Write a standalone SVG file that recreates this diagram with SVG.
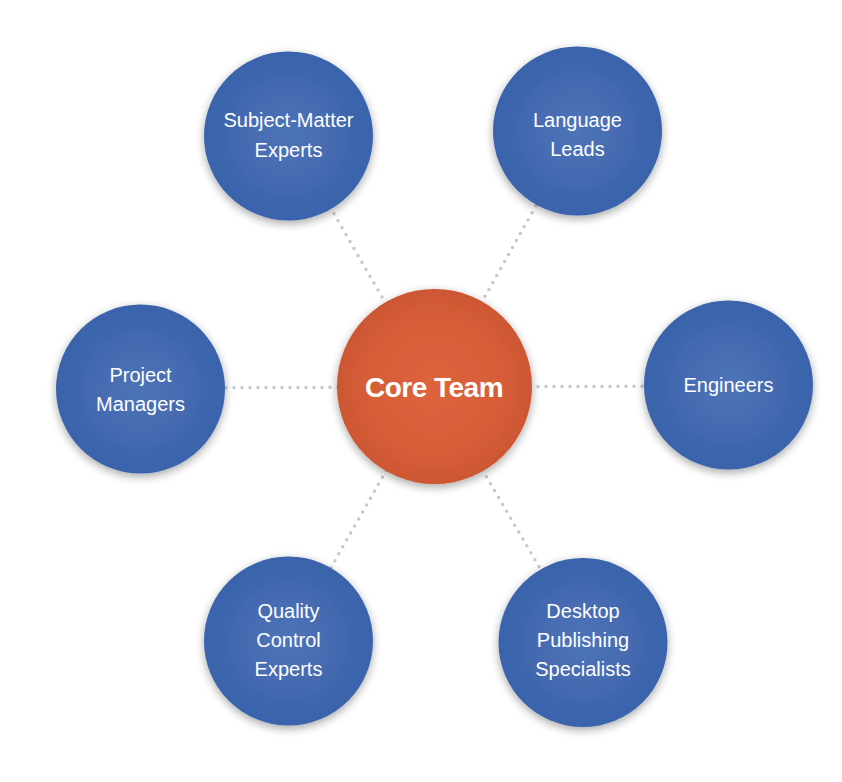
<svg xmlns="http://www.w3.org/2000/svg" width="842" height="782" viewBox="0 0 842 782">
<style>
.lbl{font-family:"Liberation Sans",Arial,sans-serif;font-size:20px;fill:#ffffff;text-anchor:middle}
.core{font-family:"Liberation Sans",Arial,sans-serif;font-size:28px;font-weight:bold;fill:#ffffff;text-anchor:middle;letter-spacing:-0.5px}
.conn{stroke:#c8c8c8;stroke-width:3.5;stroke-linecap:round;stroke-dasharray:0 8;fill:none}
</style>
<defs>
<radialGradient id="blueG" cx="50%" cy="50%" r="50%">
<stop offset="0" stop-color="#4e74b8"/>
<stop offset="0.62" stop-color="#4469b0"/>
<stop offset="0.68" stop-color="#4268ae"/>
<stop offset="0.72" stop-color="#3d66ad"/>
<stop offset="1" stop-color="#3a64ab"/>
</radialGradient>
<radialGradient id="orangeG" cx="50%" cy="50%" r="50%">
<stop offset="0" stop-color="#de643d"/>
<stop offset="0.7" stop-color="#d65d38"/>
<stop offset="1" stop-color="#cd5733"/>
</radialGradient>
<filter id="sh" x="-30%" y="-30%" width="160%" height="160%">
<feGaussianBlur in="SourceAlpha" stdDeviation="5"/>
<feOffset dy="3" result="b"/>
<feComponentTransfer><feFuncA type="linear" slope="0.35"/></feComponentTransfer>
<feMerge><feMergeNode/><feMergeNode in="SourceGraphic"/></feMerge>
</filter>
</defs>
<rect width="842" height="782" fill="#ffffff"/>
<g id="connectors">
<line class="conn" x1="434" y1="387" x2="289" y2="136"/>
<line class="conn" x1="434" y1="387" x2="578" y2="131"/>
<line class="conn" x1="434" y1="387" x2="141" y2="388"/>
<line class="conn" x1="434" y1="387" x2="728" y2="386"/>
<line class="conn" x1="434" y1="387" x2="289" y2="641"/>
<line class="conn" x1="434" y1="387" x2="583" y2="642"/>
</g>
<g id="core-team">
<circle cx="434.5" cy="386.5" r="97.5" fill="url(#orangeG)" filter="url(#sh)"/>
<text class="core" x="434" y="397">Core Team</text>
</g>
<g id="subject-matter-experts">
<circle cx="288.5" cy="136" r="84.5" fill="url(#blueG)" filter="url(#sh)"/>
<text class="lbl" x="288.5" y="127">Subject-Matter</text>
<text class="lbl" x="288.5" y="157">Experts</text>
</g>
<g id="language-leads">
<circle cx="577.5" cy="131" r="84.5" fill="url(#blueG)" filter="url(#sh)"/>
<text class="lbl" x="577.5" y="127">Language</text>
<text class="lbl" x="577.5" y="156">Leads</text>
</g>
<g id="project-managers">
<circle cx="140.5" cy="389" r="84.5" fill="url(#blueG)" filter="url(#sh)"/>
<text class="lbl" x="140.5" y="382">Project</text>
<text class="lbl" x="140.5" y="411">Managers</text>
</g>
<g id="engineers">
<circle cx="728.5" cy="385" r="84.5" fill="url(#blueG)" filter="url(#sh)"/>
<text class="lbl" x="728.5" y="392">Engineers</text>
</g>
<g id="quality-control-experts">
<circle cx="288.5" cy="641" r="84.5" fill="url(#blueG)" filter="url(#sh)"/>
<text class="lbl" x="288.5" y="618">Quality</text>
<text class="lbl" x="288.5" y="647">Control</text>
<text class="lbl" x="288.5" y="676">Experts</text>
</g>
<g id="desktop-publishing-specialists">
<circle cx="583" cy="642.5" r="84.5" fill="url(#blueG)" filter="url(#sh)"/>
<text class="lbl" x="583" y="618">Desktop</text>
<text class="lbl" x="583" y="647">Publishing</text>
<text class="lbl" x="583" y="676">Specialists</text>
</g>
</svg>
